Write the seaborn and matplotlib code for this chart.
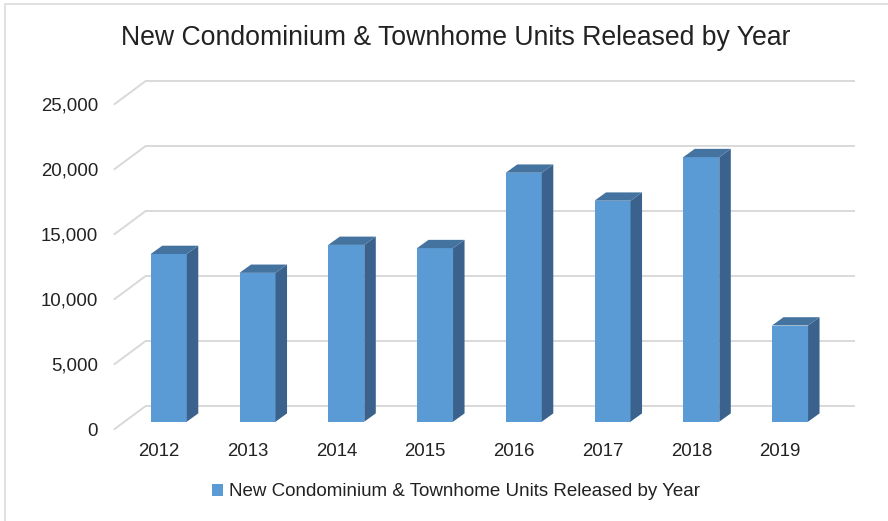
import numpy as np
import pandas as pd
import matplotlib
matplotlib.use("Agg")
import matplotlib.pyplot as plt
import matplotlib.transforms as mtransforms
from matplotlib.patches import Polygon, Patch, Rectangle
import seaborn as sns

# ---- data ----
years = ["2012", "2013", "2014", "2015", "2016", "2017", "2018", "2019"]
units = [12900, 11450, 13600, 13350, 19150, 17000, 20350, 7400]
y_ticks = [0, 5000, 10000, 15000, 20000, 25000]
y_tick_labels = ["0", "5,000", "10,000", "15,000", "20,000", "25,000"]
title = "New Condominium & Townhome Units Released by Year"
series_name = "New Condominium & Townhome Units Released by Year"

# ---- style ----
sns.set_style("white")
plt.rcParams["font.family"] = ["Liberation Sans", "DejaVu Sans"]
FRONT = "#5b9bd5"
SIDE = "#3a628c"
TOP = "#44739f"
GRID = "#d9d9d9"
TXT = "#222222"

W, H, DPI = 888, 521, 100
fig = plt.figure(figsize=(W / DPI, H / DPI), dpi=DPI)
fig.patch.set_facecolor("white")

# light border of the chart area (left and top visible)
fig.patches.append(Rectangle((5 / W, -0.5), 2.0, 1.5 - 4 / H, transform=fig.transFigure,
                             fill=False, edgecolor="#dcdcdc", linewidth=1.2))

ax_l, ax_r, ax_b, ax_t = 124.4, 834.4, 421.7, 96.7
ax = fig.add_axes([ax_l / W, 1 - ax_b / H, (ax_r - ax_l) / W, (ax_b - ax_t) / H])
ax.set_facecolor("none")

df = pd.DataFrame({"year": years, "units": units})
sns.barplot(data=df, x="year", y="units", color=FRONT, saturation=1, width=0.406,
            ax=ax, zorder=3, linewidth=0)
ax.set_xlim(-0.5, len(years) - 0.5)
ax.set_ylim(0, 25000)

px_x = (ax_r - ax_l) / len(years)   # pixels per category
px_y = (ax_b - ax_t) / 25000        # pixels per unit

# depth offsets (pixels -> data)
bar_dx, bar_dy = 11.5 / px_x, 8.3 / px_y
back_dx, back_dy = 21.0 / px_x, 15.5 / px_y
frnt_dx, frnt_dy = -10.0 / px_x, -7.5 / px_y

# back wall gridlines and floor diagonals
x0, x1 = ax.get_xlim()
for v in y_ticks:
    ax.plot([x0 + back_dx, x1 + back_dx], [v + back_dy] * 2, color=GRID, lw=1.4,
            clip_on=False, zorder=1, solid_capstyle="butt")
    ax.plot([x0 + frnt_dx, x0 + back_dx], [v + frnt_dy, v + back_dy], color=GRID, lw=1.4,
            clip_on=False, zorder=1)

# 3D sides and tops of bars
for p in list(ax.patches):
    bx, bw, bh = p.get_x(), p.get_width(), p.get_height()
    side = [(bx + bw, 0), (bx + bw + bar_dx, bar_dy), (bx + bw + bar_dx, bh + bar_dy), (bx + bw, bh)]
    top = [(bx, bh), (bx + bar_dx, bh + bar_dy), (bx + bw + bar_dx, bh + bar_dy), (bx + bw, bh)]
    ax.add_patch(Polygon(side, closed=True, facecolor=SIDE, edgecolor="none", zorder=3, clip_on=False))
    ax.add_patch(Polygon(top, closed=True, facecolor=TOP, edgecolor="none", zorder=3, clip_on=False))

for s in ax.spines.values():
    s.set_visible(False)
ax.grid(False)
ax.set_xlabel("")
ax.set_ylabel("")

ax.set_yticks(y_ticks, y_tick_labels)
ax.tick_params(axis="y", length=0, pad=19, labelsize=13.4, labelcolor=TXT)
ax.tick_params(axis="x", length=0, pad=9.6, labelsize=13.4, labelcolor=TXT)

off_y = mtransforms.ScaledTranslation(0, -7.5 / DPI, fig.dpi_scale_trans)
off_x = mtransforms.ScaledTranslation(-10 / DPI, -7.5 / DPI, fig.dpi_scale_trans)
for t in ax.yaxis.get_major_ticks():
    t.label1.set_transform(t.label1.get_transform() + off_y)
for t in ax.xaxis.get_major_ticks():
    t.label1.set_transform(t.label1.get_transform() + off_x)

fig.text(456 / W, 1 - 38 / H, title, ha="center", va="center", fontsize=19.2, color=TXT)

fig.legend(handles=[Patch(facecolor=FRONT, edgecolor="none", label=series_name)],
           loc="center", bbox_to_anchor=(456 / W, 1 - 492 / H), frameon=False,
           fontsize=13.5, handlelength=0.6, handleheight=0.6, handletextpad=0.3,
           labelcolor=TXT)

fig.savefig("out.png", dpi=DPI, facecolor="white")
